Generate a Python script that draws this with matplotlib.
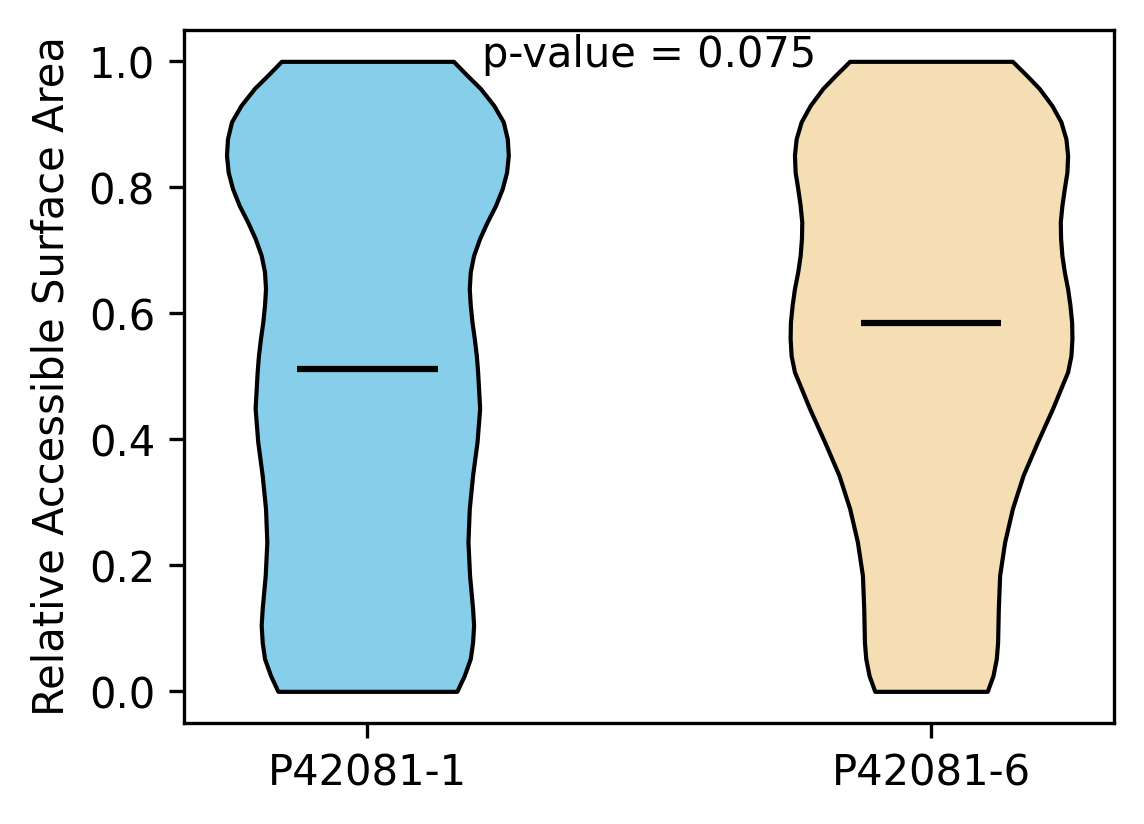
import matplotlib
matplotlib.use("Agg")
import matplotlib.pyplot as plt
import numpy as np

# group names
groups = ['P42081-1', 'P42081-6']
# violin outlines: RSA level and relative density (half width)
rsa_1 = [0.0, 0.025, 0.052, 0.078, 0.105, 0.131, 0.184, 0.237, 0.290, 0.343, 0.396,
         0.449, 0.507, 0.533, 0.560, 0.586, 0.613, 0.639, 0.666, 0.692, 0.719, 0.745,
         0.771, 0.798, 0.824, 0.851, 0.877, 0.904, 0.930, 0.957, 0.978, 1.0]
dens_1 = [88.7, 96, 102, 104.3, 105.3, 104.3, 101.3, 99.7, 101, 104.3, 108.7,
          111.3, 109.3, 108, 106, 103.7, 102, 101, 102, 105.3, 111.3, 118.7,
          127, 133.7, 138, 139.7, 138.7, 134.7, 125.3, 112, 98.7, 85.3]
rsa_6 = [0.0, 0.025, 0.052, 0.078, 0.131, 0.184, 0.237, 0.290, 0.343, 0.396, 0.449,
         0.507, 0.533, 0.560, 0.586, 0.613, 0.639, 0.666, 0.692, 0.719, 0.745,
         0.771, 0.798, 0.824, 0.851, 0.877, 0.904, 0.930, 0.957, 0.978, 1.0]
dens_6 = [56, 61.7, 65, 66.3, 67, 68.3, 73.3, 81, 91.7, 106, 121,
          136, 139.3, 140.3, 140, 138.3, 136, 132.7, 130.3, 129, 128.7,
          130.3, 132.7, 135.3, 136, 134.3, 129.3, 120.3, 107.7, 95, 81]
medians = [0.511, 0.585]
colors = ['skyblue', 'wheat']
p_value = 0.075

stats = []
for c, d, m in [(rsa_1, dens_1, medians[0]), (rsa_6, dens_6, medians[1])]:
    stats.append({'coords': np.array(c), 'vals': np.array(d, dtype=float),
                  'mean': m, 'median': m, 'min': min(c), 'max': max(c)})

fig, ax = plt.subplots(figsize=(4, 3), dpi=300)
parts = ax.violin(stats, positions=[1, 2], widths=0.5,
                  showmeans=False, showextrema=False, showmedians=True)
for body, col in zip(parts['bodies'], colors):
    body.set_facecolor(col)
    body.set_edgecolor('black')
    body.set_linewidth(1)
    body.set_alpha(1)
parts['cmedians'].set_color('black')
parts['cmedians'].set_linewidth(1.5)

ax.set_xticks([1, 2])
ax.set_xticklabels(groups)
ax.set_ylabel('Relative Accessible Surface Area')
ax.text(1.5, 1.01, 'p-value = ' + str(p_value), ha='center', va='center')

plt.savefig('out.png', dpi=300, bbox_inches='tight')
